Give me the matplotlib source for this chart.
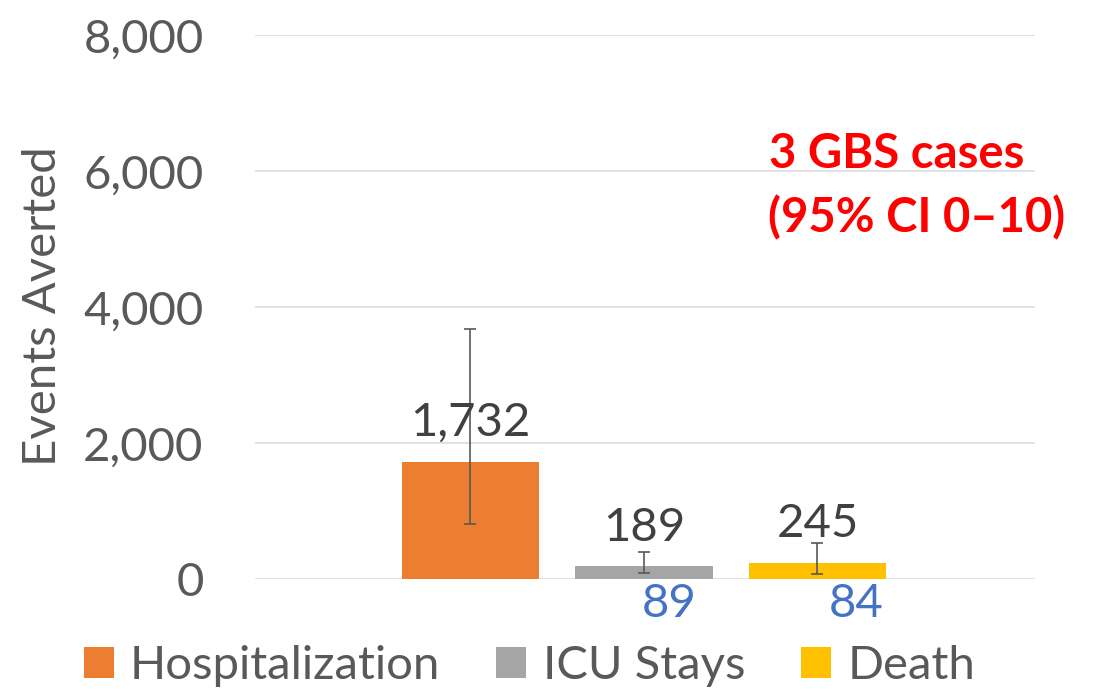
import matplotlib
matplotlib.use("Agg")
import matplotlib.pyplot as plt
from matplotlib.patches import Patch
from matplotlib.ticker import FuncFormatter

# ---- data ----
categories = ["Hospitalization", "ICU Stays", "Death"]
values = [1732, 189, 245]
ci_low = [818, 89, 84]
ci_high = [3680, 395, 535]
bar_colors = ["#ED7D31", "#A5A5A5", "#FFC000"]
low_labels = [None, 89, 84]
yticks = [0, 2000, 4000, 6000, 8000]
note_lines = ["3 GBS cases", "(95% CI 0\u201310)"]

FONT = "Lato"
plt.rcParams["font.family"] = [FONT, "DejaVu Sans"]
FS = 34
GREY = "#595959"

fig = plt.figure(figsize=(10.94, 6.89), dpi=100)
ax = fig.add_axes([0.2331, 0.1592, 0.9461 - 0.2331, 0.9488 - 0.1592])

x = list(range(len(categories)))
yerr = [[v - lo for v, lo in zip(values, ci_low)],
        [hi - v for v, hi in zip(values, ci_high)]]
bars = ax.bar(x, values, width=0.79, color=bar_colors, zorder=2)
ax.errorbar(x, values, yerr=yerr, fmt="none", ecolor=GREY, elinewidth=1.2,
            capsize=4.3, capthick=1.2, zorder=3)

ax.set_xlim(-1.242, 3.254)
ax.set_ylim(0, 8000)
ax.set_yticks(yticks)
ax.yaxis.set_major_formatter(FuncFormatter(lambda v, p: f"{int(v):,}"))
ax.tick_params(axis="y", length=0, pad=37, labelsize=FS, labelcolor=GREY)
ax.set_xticks([])
for s in ax.spines.values():
    s.set_visible(False)
ax.grid(axis="y", color="#D9D9D9", linewidth=1.1, zorder=0)
ax.set_axisbelow(True)

# value labels above bars
for xi, v in zip(x, values):
    ax.annotate(f"{v:,}", (xi, v), xytext=(0, 18.5), textcoords="offset points",
                ha="center", va="baseline", fontsize=FS, color="#404040")

# lower-bound labels in blue below axis
low_offsets = [0, 0.147, 0.222]
for xi, lab, off in zip(x, low_labels, low_offsets):
    if lab is None:
        continue
    ax.annotate(f"{lab}", (xi + off, 0), xytext=(0, -27.4), textcoords="offset points",
                ha="center", va="baseline", fontsize=FS, color="#4472C4")

# y label
fig.text(43 / 1094, 0.556, "Events Averted", rotation=90, ha="center", va="center",
         fontsize=FS, color=GREY)

# red note
fig.text(769 / 1094, (689 - 168) / 689, note_lines[0], ha="left", va="baseline",
         fontsize=FS, fontweight="bold", color="#FF0000")
fig.text(768 / 1094, (689 - 232) / 689, note_lines[1], ha="left", va="baseline",
         fontsize=FS, fontweight="bold", color="#FF0000")

# legend
handles = [Patch(facecolor=c, edgecolor="none") for c in bar_colors]
fig.legend(handles, categories, loc="center", bbox_to_anchor=(529.5 / 1094, 23 / 689),
           ncol=3, frameon=False, fontsize=FS, labelcolor=GREY,
           handlelength=0.635, handleheight=0.635, handletextpad=0.34,
           columnspacing=1.19, borderpad=0, borderaxespad=0)

fig.savefig("out.png", dpi=100)
